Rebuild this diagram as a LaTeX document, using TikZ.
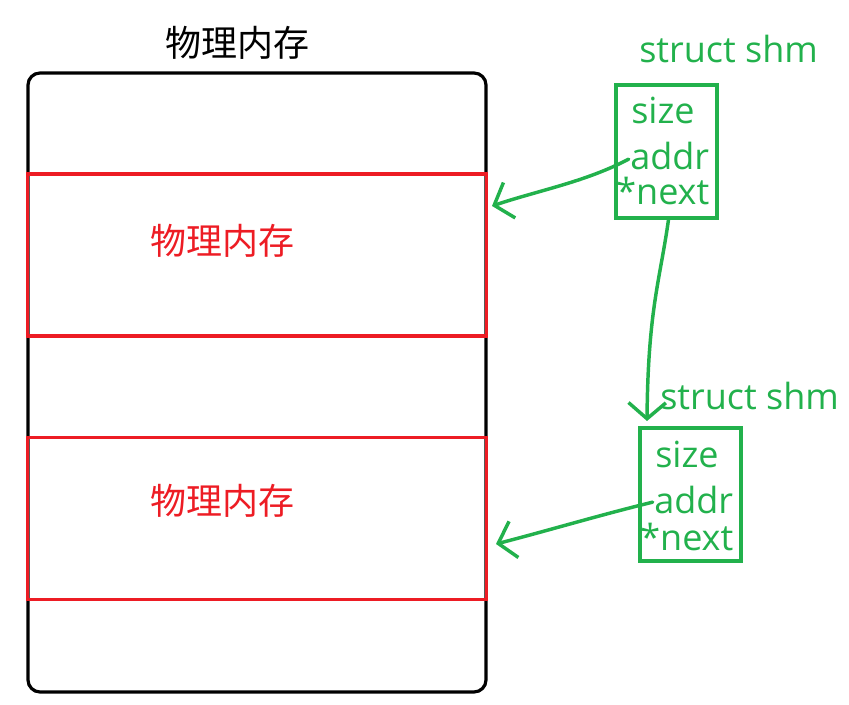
\documentclass[tikz,border=0pt]{standalone}
\usepackage{fontspec}
\setmainfont{Open Sans}
\newfontfamily\cjk{Noto Sans CJK SC}
\usetikzlibrary{arrows.meta}
\definecolor{pgreen}{RGB}{34,177,76}
\definecolor{pred}{RGB}{237,28,36}
\tikzset{
  memline/.style={draw=black, line width=2.4pt, rounded corners=9pt},
  segbox/.style={draw=pred, line width=2.4pt, minimum width=344.25pt, minimum height=121.5pt, inner sep=0pt},
  shmbox/.style={draw=pgreen, line width=2.4pt, minimum width=75.75pt, minimum height=99.75pt, inner sep=0pt},
  fieldtxt/.style={text=pgreen, anchor=base west, inner sep=0pt, font=\fontsize{27}{31}\selectfont},
  cjktxt/.style={inner sep=0pt, font=\cjk\fontsize{27}{32}\selectfont},
  ptr/.style={draw=pgreen, line width=2.6pt, line cap=round, line join=round,
    -{Straight Barb[length=12pt, width=28pt, line width=2.6pt]}}
}
\begin{document}
\begin{tikzpicture}[x=0.75pt, y=-0.75pt]
\useasboundingbox (0,0) rectangle (849,705);
% memory block
\draw[memline] (28,73) rectangle (486,692);
\node[cjktxt, text=black] (title) at (237,43) {物理内存};
\node[segbox] (seg1) at (256.75,255) {};
\node[segbox] (seg2) at (256.75,518.5) {};
\node[cjktxt, text=pred] (lab1) at (222,241) {物理内存};
\node[cjktxt, text=pred] (lab2) at (222,501) {物理内存};
% struct shm 1
\node[shmbox] (box1) at (666.5,151.5) {};
\node[fieldtxt] (st1) at (639,63) {struct shm};
\node[fieldtxt] (s1) at (631,124) {size};
\node[fieldtxt] (a1) at (630,170) {addr};
\node[fieldtxt] (n1) at (616,205) {*next};
% struct shm 2
\node[shmbox] (box2) at (690.5,494.5) {};
\node[fieldtxt] (st2) at (660,410) {struct shm};
\node[fieldtxt] (s2) at (655,468) {size};
\node[fieldtxt] (a2) at (654,513) {addr};
\node[fieldtxt] (n2) at (640,550) {*next};
% arrow tips
\coordinate (t1) at (492,206);
\coordinate (t2) at (496,544);
\coordinate (t3) at (647,421);
% connectors
\draw[ptr] ([xshift=-1pt,yshift=-2pt]a1.west) .. controls (585,182) and (540,190) .. (t1);
\draw[ptr] ([xshift=-1pt,yshift=-2pt]a2.west) .. controls (600,515) and (550,530) .. (t2);
\draw[ptr] ([xshift=1.5pt]box1.south) .. controls (660,280) and (648,310) .. (t3);
\end{tikzpicture}
\end{document}
